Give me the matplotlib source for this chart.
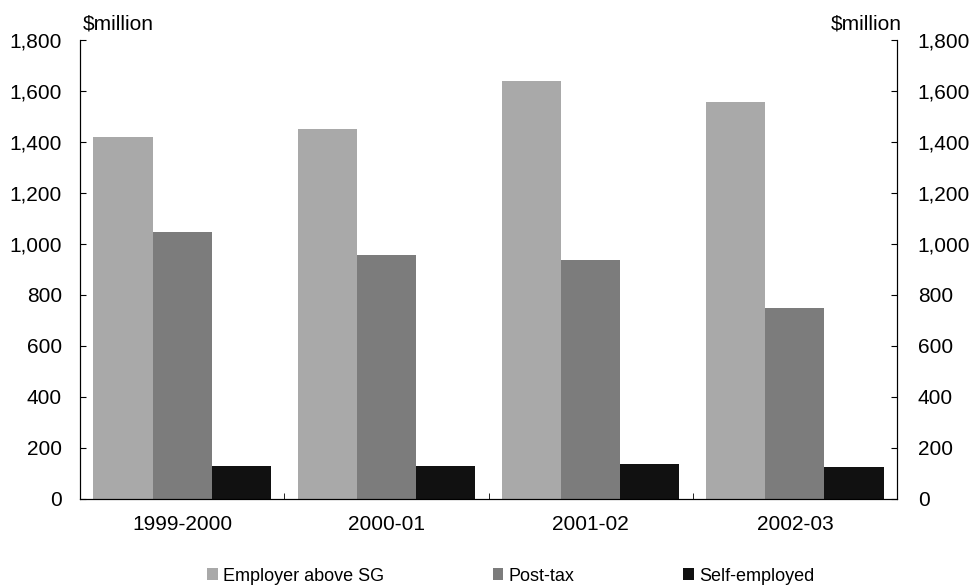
import numpy as np
import matplotlib.pyplot as plt
from matplotlib.patches import Patch

plt.rcParams['font.family'] = ['Liberation Sans', 'DejaVu Sans']

years = ['1999-2000', '2000-01', '2001-02', '2002-03']
employer = [1420, 1450, 1640, 1555]
post_tax = [1045, 955, 935, 750]
self_employed = [128, 127, 137, 125]

series = [('Employer above SG', employer, '#a9a9a9'),
          ('Post-tax', post_tax, '#7c7c7c'),
          ('Self-employed', self_employed, '#111111')]

fig = plt.figure(figsize=(9.69, 5.85), dpi=100)
ax = fig.add_axes([0.0826, 0.1477, 0.8431, 0.7839])

x = np.arange(len(years))
w = 0.29
for i, (name, vals, col) in enumerate(series):
    ax.bar(x + (i - 1) * w, vals, width=w, color=col, label=name)

ax.set_xlim(-0.5, len(years) - 0.5)
ax.set_ylim(0, 1800)
yt = np.arange(0, 1801, 200)
ax.set_yticks(yt)
ax.set_yticklabels([f'{v:,}' for v in yt])
ax.set_xticks(x)
ax.set_xticklabels(years)
ax.set_xticks(np.arange(0.5, len(years) - 1, 1), minor=True)
ax.tick_params(axis='x', which='major', length=0, pad=12, labelsize=15)
ax.tick_params(axis='x', which='minor', direction='in', length=4)
ax.tick_params(axis='y', direction='in', length=4, pad=13, labelsize=15)
ax.spines['top'].set_visible(False)
for s in ['left', 'right', 'bottom']:
    ax.spines[s].set_linewidth(0.8)

ax2 = ax.twinx()
ax2.set_ylim(0, 1800)
ax2.set_yticks(yt)
ax2.set_yticklabels([f'{v:,}' for v in yt])
ax2.tick_params(axis='y', direction='in', length=4, pad=15, labelsize=15)
ax2.spines['top'].set_visible(False)

fig.text(0.0857, 0.942, '$million', fontsize=15, ha='left', va='bottom')
fig.text(0.931, 0.942, '$million', fontsize=15, ha='right', va='bottom')

handles = [Patch(facecolor=c, label=n) for n, _, c in series]
fig.legend(handles=handles, loc='lower center', bbox_to_anchor=(0.527, -0.027),
           ncol=3, frameon=False, fontsize=13, handlelength=0.6,
           handleheight=0.6, handletextpad=0.3, columnspacing=6.0)

fig.savefig('out.png', dpi=100)
